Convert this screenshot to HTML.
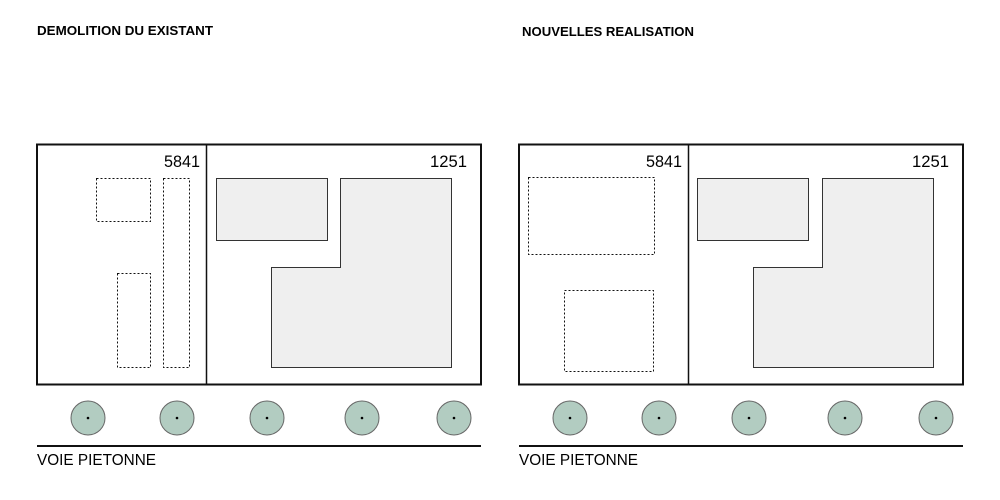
<!DOCTYPE html>
<html><head><meta charset="utf-8"><style>html,body{margin:0;padding:0;background:#fff}svg{display:block}</style></head>
<body>
<svg width="1000" height="500" viewBox="0 0 1000 500" xmlns="http://www.w3.org/2000/svg" font-family="Liberation Sans, Arial, sans-serif">
<rect width="1000" height="500" fill="#fff"/>
<text x="37" y="35" font-size="12.5" font-weight="bold" textLength="176" lengthAdjust="spacingAndGlyphs">DEMOLITION DU EXISTANT</text>
<text x="522" y="36" font-size="12.5" font-weight="bold" textLength="172" lengthAdjust="spacingAndGlyphs">NOUVELLES REALISATION</text>

<g id="L">
<rect x="37" y="144.5" width="444" height="240" fill="none" stroke="#111" stroke-width="2"/>
<line x1="206.5" y1="144" x2="206.5" y2="385" stroke="#111" stroke-width="1.5"/>
<text x="164" y="167" font-size="17" textLength="36" lengthAdjust="spacingAndGlyphs">5841</text>
<text x="430" y="167" font-size="17" textLength="37" lengthAdjust="spacingAndGlyphs">1251</text>
<rect x="216.5" y="178.5" width="111" height="62" fill="#efefef" stroke="#333" stroke-width="1"/>
<polygon points="340.5,178.5 451.5,178.5 451.5,367.5 271.5,367.5 271.5,267.5 340.5,267.5" fill="#efefef" stroke="#333" stroke-width="1"/>
<g fill="none" stroke="#111" stroke-width="1" stroke-dasharray="2,2">
<rect x="96.5" y="178.5" width="54" height="43"/>
<rect x="163.5" y="178.5" width="26" height="189"/>
<rect x="117.5" y="273.5" width="33" height="94"/>
</g>
<line x1="37" y1="446" x2="481" y2="446" stroke="#111" stroke-width="2"/>
<text x="37" y="465" font-size="16" textLength="119" lengthAdjust="spacingAndGlyphs">VOIE PIETONNE</text>
<g fill="#b2ccc1" stroke="#666" stroke-width="1">
<circle cx="88" cy="418" r="17"/><circle cx="177" cy="418" r="17"/><circle cx="267" cy="418" r="17"/><circle cx="362" cy="418" r="17"/><circle cx="454" cy="418" r="17"/>
</g>
<g fill="#000"><circle cx="88" cy="418" r="1.3"/><circle cx="177" cy="418" r="1.3"/><circle cx="267" cy="418" r="1.3"/><circle cx="362" cy="418" r="1.3"/><circle cx="454" cy="418" r="1.3"/></g>
</g>

<g transform="translate(482,0)">
<rect x="37" y="144.5" width="444" height="240" fill="none" stroke="#111" stroke-width="2"/>
<line x1="206.5" y1="144" x2="206.5" y2="385" stroke="#111" stroke-width="1.5"/>
<text x="164" y="167" font-size="17" textLength="36" lengthAdjust="spacingAndGlyphs">5841</text>
<text x="430" y="167" font-size="17" textLength="37" lengthAdjust="spacingAndGlyphs">1251</text>
<rect x="215.5" y="178.5" width="111" height="62" fill="#efefef" stroke="#333" stroke-width="1"/>
<polygon points="340.5,178.5 451.5,178.5 451.5,367.5 271.5,367.5 271.5,267.5 340.5,267.5" fill="#efefef" stroke="#333" stroke-width="1"/>
<g fill="none" stroke="#111" stroke-width="1" stroke-dasharray="2,2">
<rect x="46.5" y="177.5" width="126" height="77"/>
<rect x="82.5" y="290.5" width="89" height="81"/>
</g>
<line x1="37" y1="446" x2="481" y2="446" stroke="#111" stroke-width="2"/>
<text x="37" y="465" font-size="16" textLength="119" lengthAdjust="spacingAndGlyphs">VOIE PIETONNE</text>
<g fill="#b2ccc1" stroke="#666" stroke-width="1">
<circle cx="88" cy="418" r="17"/><circle cx="177" cy="418" r="17"/><circle cx="267" cy="418" r="17"/><circle cx="363" cy="418" r="17"/><circle cx="454" cy="418" r="17"/>
</g>
<g fill="#000"><circle cx="88" cy="418" r="1.3"/><circle cx="177" cy="418" r="1.3"/><circle cx="267" cy="418" r="1.3"/><circle cx="363" cy="418" r="1.3"/><circle cx="454" cy="418" r="1.3"/></g>
</g>
</svg>
</body></html>
